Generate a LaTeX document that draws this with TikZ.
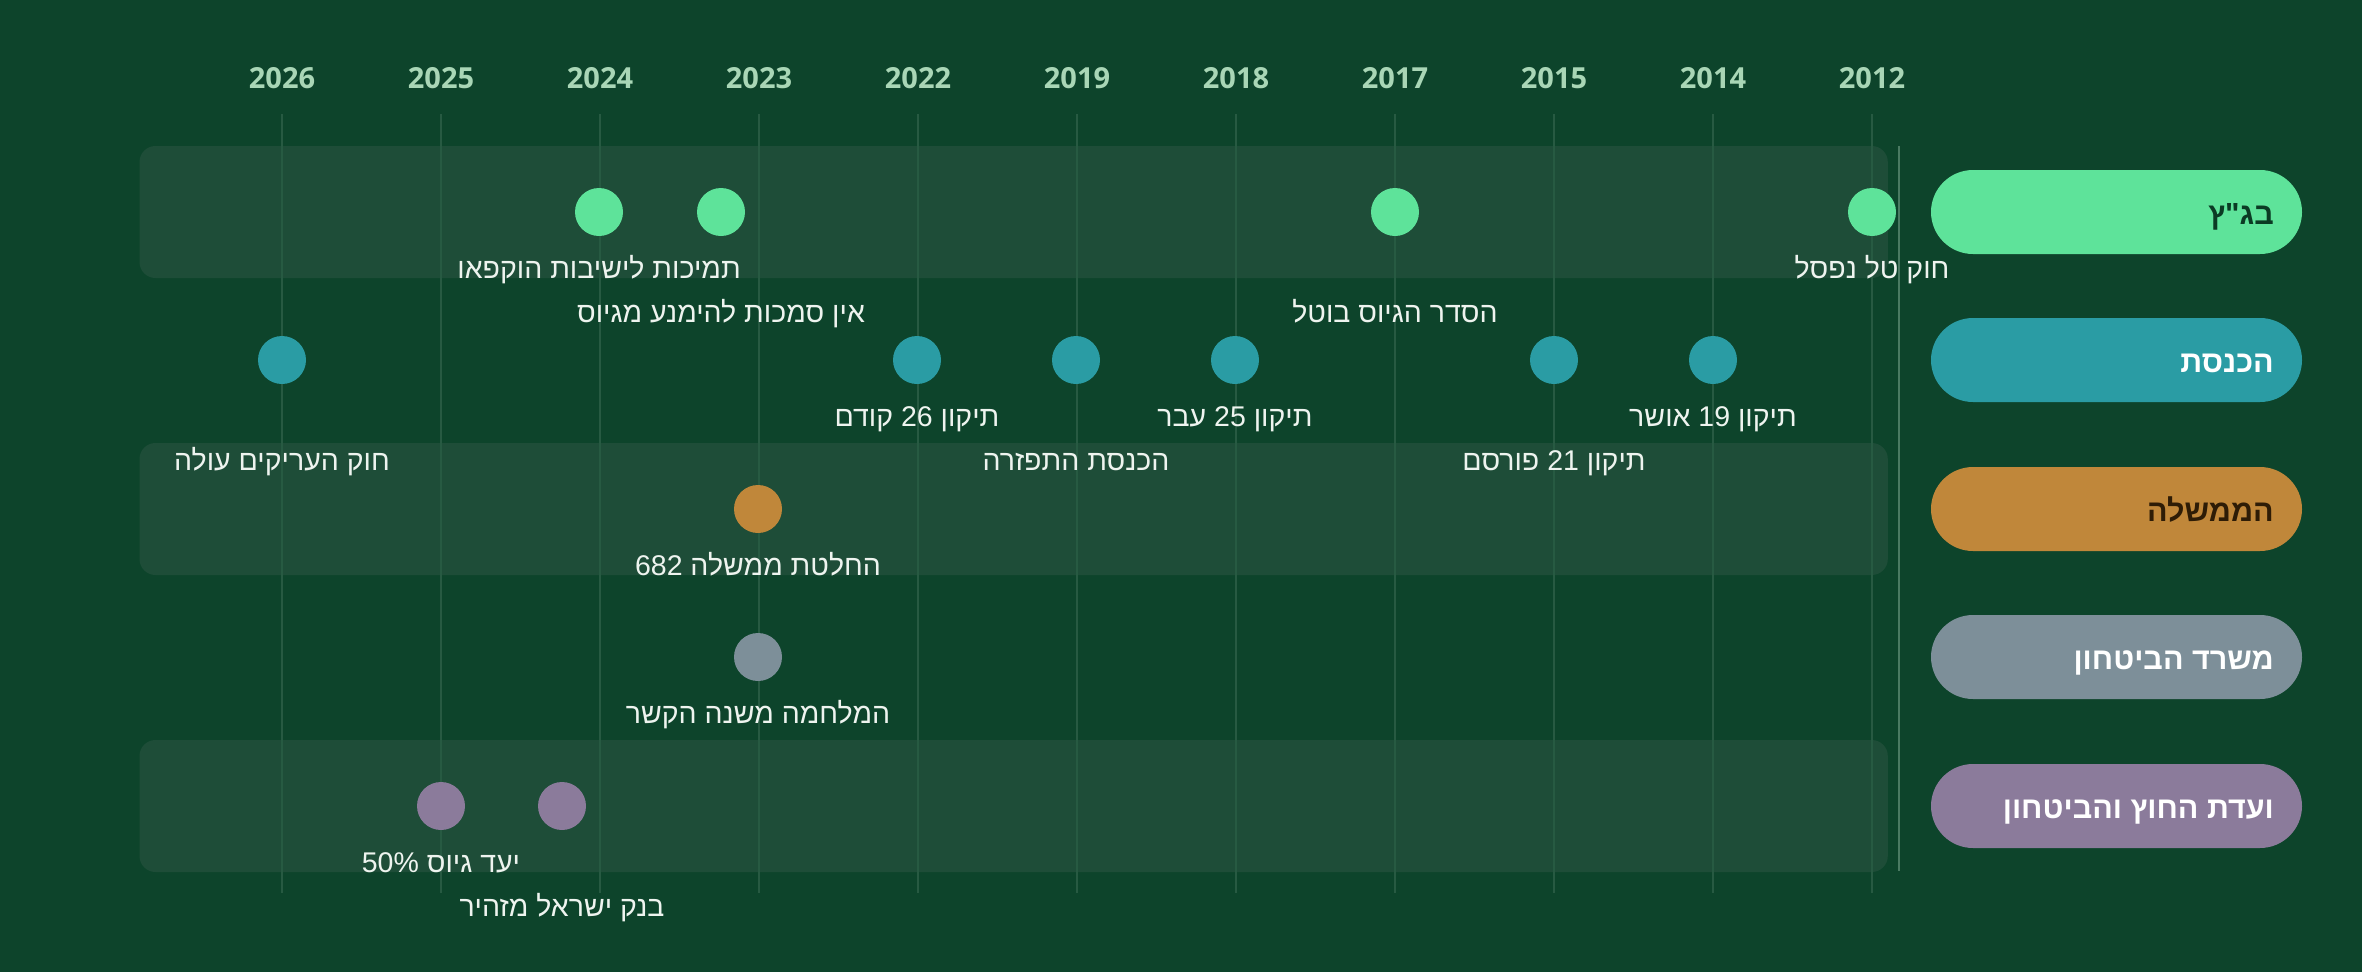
\documentclass[tikz,border=0pt]{standalone}
\usepackage{fontspec}
\TeXXeTstate=1
\newfontfamily\hefont[Script=Hebrew]{Liberation Sans}
\newfontfamily\yearfont{Open Sans}
\newcommand\heb[1]{\beginR #1\endR}
\definecolor{bgc}{HTML}{0D442B}
\definecolor{bandc}{HTML}{1E4D38}
\definecolor{gridc}{HTML}{275A42}
\definecolor{sepc}{HTML}{4A7A62}
\definecolor{yearc}{HTML}{A9D6B6}
\definecolor{labc}{HTML}{EEF4EF}
\definecolor{cbg}{HTML}{5EE39A}
\definecolor{ckn}{HTML}{2A9CA4}
\definecolor{cgov}{HTML}{C0873A}
\definecolor{cdef}{HTML}{7D8F99}
\definecolor{ccom}{HTML}{8B7B9B}
\definecolor{tbg}{HTML}{0B3B24}
\definecolor{tgov}{HTML}{2E1C06}
\begin{document}
\begin{tikzpicture}[x=1pt,y=-1pt,
  year/.style={anchor=base,font=\yearfont\bfseries\fontsize{29}{32}\selectfont,text=yearc,inner sep=0},
  gridline/.style={draw=gridc,line width=1.5pt},
  band/.style={fill=bandc,rounded corners=16pt},
  dot/.style={circle,minimum size=48pt,inner sep=0,draw=none},
  lab/.style={anchor=base,font=\hefont\fontsize{28.5}{32}\selectfont,text=labc,inner sep=0},
  pill/.style={rounded corners=42pt,minimum width=371pt,minimum height=84pt,inner sep=0,draw=none},
  pilltext/.style={anchor=base east,font=\hefont\bfseries\fontsize{30.5}{34}\selectfont,inner sep=0}]
\fill[bgc] (0,0) rectangle (2362,972);
\useasboundingbox (0,0) rectangle (2362,972);
% bands
\fill[band] (139.5,146) rectangle (1887.8,278);
\fill[band] (139.5,443) rectangle (1887.8,575);
\fill[band] (139.5,740) rectangle (1887.8,872);
% years and grid
\foreach \yr [count=\i from 0] in {2026,2025,2024,2023,2022,2019,2018,2017,2015,2014,2012}{
  \node[year] (y\i) at ({282+159*\i},88) {\yr};
  \draw[gridline] ({282+159*\i},114) -- ({282+159*\i},893);
}
\draw[draw=sepc,line width=2pt] (1898.6,146) -- (1898.6,871);
% row 0: bagatz
\node[dot,fill=cbg] (a1) at (599,212) {};
\node[dot,fill=cbg] (a2) at (721,212) {};
\node[dot,fill=cbg] (a3) at (1395,212) {};
\node[dot,fill=cbg] (a4) at (1872,212) {};
\node[lab] (la1) at (599,278) {\heb{תמיכות לישיבות הוקפאו}};
\node[lab] (la2) at (721,322) {\heb{אין סמכות להימנע מגיוס}};
\node[lab] (la3) at (1395,322) {\heb{הסדר הגיוס בוטל}};
\node[lab] (la4) at (1872,278) {\heb{חוק טל נפסל}};
% row 1: knesset
\node[dot,fill=ckn] (b1) at (282,360) {};
\node[dot,fill=ckn] (b2) at (917,360) {};
\node[dot,fill=ckn] (b3) at (1076,360) {};
\node[dot,fill=ckn] (b4) at (1235,360) {};
\node[dot,fill=ckn] (b5) at (1554,360) {};
\node[dot,fill=ckn] (b6) at (1713,360) {};
\node[lab] (lb1) at (282,470) {\heb{חוק העריקים עולה}};
\node[lab] (lb2) at (917,426) {\heb{תיקון 26 קודם}};
\node[lab] (lb3) at (1076,470) {\heb{הכנסת התפזרה}};
\node[lab] (lb4) at (1235,426) {\heb{תיקון 25 עבר}};
\node[lab] (lb5) at (1554,470) {\heb{תיקון 21 פורסם}};
\node[lab] (lb6) at (1713,426) {\heb{תיקון 19 אושר}};
% row 2: government
\node[dot,fill=cgov] (c1) at (758,509) {};
\node[lab] (lc1) at (758,575) {\heb{החלטת ממשלה 682}};
% row 3: defense
\node[dot,fill=cdef] (d1) at (758,657) {};
\node[lab] (ld1) at (758,723) {\heb{המלחמה משנה הקשר}};
% row 4: committee
\node[dot,fill=ccom] (e1) at (441,806) {};
\node[dot,fill=ccom] (e2) at (562,806) {};
\node[lab] (le1) at (441,872) {\heb{יעד גיוס \beginL 50\%\endL}};
\node[lab] (le2) at (562,916) {\heb{בנק ישראל מזהיר}};
% legend pills
\node[pill,fill=cbg] (p0) at (2116.5,212) {};
\node[pilltext,text=tbg] (t0) at (2274,224) {\heb{בג"ץ}};
\node[pill,fill=ckn] (p1) at (2116.5,360) {};
\node[pilltext,text=white] (t1) at (2274,372) {\heb{הכנסת}};
\node[pill,fill=cgov] (p2) at (2116.5,509) {};
\node[pilltext,text=tgov] (t2) at (2274,521) {\heb{הממשלה}};
\node[pill,fill=cdef] (p3) at (2116.5,657) {};
\node[pilltext,text=white] (t3) at (2274,669) {\heb{משרד הביטחון}};
\node[pill,fill=ccom] (p4) at (2116.5,806) {};
\node[pilltext,text=white] (t4) at (2274,818) {\heb{ועדת החוץ והביטחון}};
\end{tikzpicture}
\end{document}
